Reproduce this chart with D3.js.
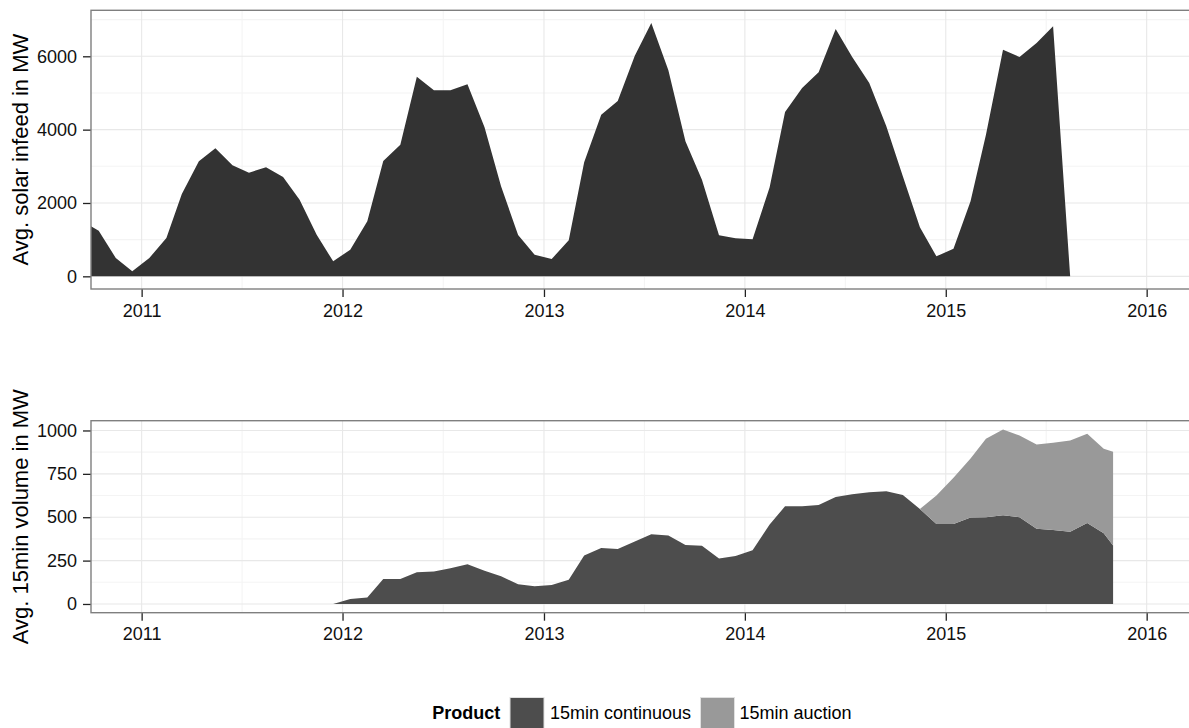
<!DOCTYPE html>
<html><head><meta charset="utf-8">
<script src="https://cdn.jsdelivr.net/npm/d3@7"></script>
<style>body{margin:0;background:#fff}svg{display:block;font-family:"Liberation Sans",Arial,sans-serif}</style>
</head><body><svg id="c" width="1189" height="728"></svg>
<script>
// ---- data ----
const solarMonths = [
 "2010-09","2010-10","2010-11","2010-12",
 "2011-01","2011-02","2011-03","2011-04","2011-05","2011-06","2011-07","2011-08","2011-09","2011-10","2011-11","2011-12",
 "2012-01","2012-02","2012-03","2012-04","2012-05","2012-06","2012-07","2012-08","2012-09","2012-10","2012-11","2012-12",
 "2013-01","2013-02","2013-03","2013-04","2013-05","2013-06","2013-07","2013-08","2013-09","2013-10","2013-11","2013-12",
 "2014-01","2014-02","2014-03","2014-04","2014-05","2014-06","2014-07","2014-08","2014-09","2014-10","2014-11","2014-12",
 "2015-01","2015-02","2015-03","2015-04","2015-05","2015-06","2015-07","2015-08"];
const solarValues = [
 1500,1245,500,136,
 500,1045,2245,3136,3490,3027,2827,2973,2709,2091,1136,409,
 727,1500,3145,3590,5445,5072,5072,5236,4063,2454,1127,591,
 473,982,3109,4409,4781,6018,6909,5618,3681,2636,1118,1036,
 1009,2427,4481,5136,5563,6745,5981,5272,4090,2727,1336,545,
 755,2045,3863,6181,5981,6363,6818,0];

const volumeDates = [
 "2011-12-15",
 "2012-01-15","2012-02-15","2012-03-15","2012-04-15","2012-05-15","2012-06-15","2012-07-15","2012-08-15","2012-09-15","2012-10-15","2012-11-15","2012-12-15",
 "2013-01-15","2013-02-15","2013-03-15","2013-04-15","2013-05-15","2013-06-15","2013-07-15","2013-08-15","2013-09-15","2013-10-15","2013-11-15","2013-12-15",
 "2014-01-15","2014-02-15","2014-03-15","2014-04-15","2014-05-15","2014-06-15","2014-07-15","2014-08-15","2014-09-15","2014-10-15","2014-11-15","2014-12-15",
 "2015-01-15","2015-02-15","2015-03-15","2015-04-15","2015-05-15","2015-06-15","2015-07-15","2015-08-15","2015-09-15","2015-10-15","2015-11-01"];
const continuousValues = [
 0,
 28,38,144,144,183,187,206,229,192,160,113,102,
 110,140,279,323,317,360,402,394,340,335,262,277,
 310,458,563,563,571,617,633,644,650,628,548,461,
 461,498,500,511,500,434,426,416,467,407,337];
const auctionValues = [
 0,
 0,0,0,0,0,0,0,0,0,0,0,0,
 0,0,0,0,0,0,0,0,0,0,0,0,
 0,0,0,0,0,0,0,0,0,0,0,164,
 266,340,452,495,471,485,503,526,514,487,540];

const yearTicks = ["2011","2012","2013","2014","2015","2016"];
const solarTicks = [0,2000,4000,6000];
const volumeTicks = [0,250,500,750,1000];
const seriesNames = ["15min continuous","15min auction"];
const seriesColors = ["#4d4d4d","#999999"];

// ---- layout ----
const svg = d3.select("#c");
const parseM = d3.timeParse("%Y-%m");
const parseD = d3.timeParse("%Y-%m-%d");
const L = 91, R = 1194;
const x = d3.scaleTime().domain([parseD("2010-10-01"), parseD("2016-03-27")]).range([L, R]);
const yearDates = yearTicks.map(t => parseD(t + "-01-01"));
const minorX = yearDates.slice(0, -1).map((d, i) => new Date((+d + +yearDates[i+1]) / 2));

const solar = solarMonths.map((m, i) => ({date: d3.timeDay.offset(parseM(m), 14), v: solarValues[i]}));
const vol = volumeDates.map((d, i) => ({date: parseD(d), c: continuousValues[i], a: auctionValues[i]}));

function panel(id, top, bottom, yDomain, majorY, title) {
  const y = d3.scaleLinear().domain(yDomain).range([bottom, top]);
  const g = svg.append("g");
  g.append("clipPath").attr("id", id).append("rect")
    .attr("x", L).attr("y", top).attr("width", R - L).attr("height", bottom - top);
  const grid = g.append("g").attr("clip-path", `url(#${id})`);
  // minor y
  const minorY = majorY.slice(0, -1).map((v, i) => (v + majorY[i+1]) / 2);
  const step = majorY[1] - majorY[0];
  minorY.push(majorY[majorY.length-1] + step/2);
  grid.selectAll(".mny").data(minorY).join("line")
    .attr("x1", L).attr("x2", R).attr("y1", d => y(d)).attr("y2", d => y(d))
    .attr("stroke", "#f4f4f4").attr("stroke-width", 1.1);
  grid.selectAll(".mnx").data(minorX).join("line")
    .attr("x1", d => x(d)).attr("x2", d => x(d)).attr("y1", top).attr("y2", bottom)
    .attr("stroke", "#f4f4f4").attr("stroke-width", 1.1);
  grid.selectAll(".mjy").data(majorY).join("line")
    .attr("x1", L).attr("x2", R).attr("y1", d => y(d)).attr("y2", d => y(d))
    .attr("stroke", "#e8e8e8").attr("stroke-width", 1.1);
  grid.selectAll(".mjx").data(yearDates).join("line")
    .attr("x1", d => x(d)).attr("x2", d => x(d)).attr("y1", top).attr("y2", bottom)
    .attr("stroke", "#e8e8e8").attr("stroke-width", 1.1);
  const marks = g.append("g").attr("clip-path", `url(#${id})`);
  // axes
  const ya = g.append("g").attr("transform", `translate(${L},0)`)
    .call(d3.axisLeft(y).tickValues(majorY).tickFormat(d3.format("d")).tickSize(8).tickPadding(6));
  const xa = g.append("g").attr("transform", `translate(0,${bottom})`)
    .call(d3.axisBottom(x).tickValues(yearDates).tickFormat(d3.timeFormat("%Y")).tickSize(8).tickPadding(7));
  [ya, xa].forEach(a => {
    a.select(".domain").remove();
    a.selectAll(".tick line").attr("stroke", "#222").attr("stroke-width", 1.3);
    a.selectAll(".tick text").attr("fill", "#111").attr("font-size", 18).attr("font-family", "Liberation Sans, Arial, sans-serif");
  });
  g.append("text").attr("transform", `translate(28,${(top+bottom)/2}) rotate(-90)`)
    .attr("text-anchor", "middle").attr("font-size", 22).attr("fill", "#000").text(title);
  const border = () => g.append("rect").attr("x", L).attr("y", top).attr("width", R - L + 5).attr("height", bottom - top)
    .attr("fill", "none").attr("stroke", "#7f7f7f").attr("stroke-width", 1.4);
  return {y, marks, border};
}

// top panel
const sMax = d3.max(solarValues);
const p1 = panel("clipTop", 10.3, 289, [-0.05 * sMax, 1.05 * sMax], solarTicks, "Avg. solar infeed in MW");
p1.marks.append("path").datum(solar)
  .attr("d", d3.area().x(d => x(d.date)).y0(p1.y(0)).y1(d => p1.y(d.v)))
  .attr("fill", "#333333");
p1.border();

// bottom panel
const vMax = d3.max(vol, d => d.c + d.a);
const p2 = panel("clipBot", 420.7, 612.7, [-0.05 * vMax, 1.05 * vMax], volumeTicks, "Avg. 15min volume in MW");
const stacked = d3.stack().keys(["c", "a"])(vol);
p2.marks.selectAll("path.s").data(stacked).join("path")
  .attr("d", d3.area().x(d => x(d.data.date)).y0(d => p2.y(d[0])).y1(d => p2.y(d[1])))
  .attr("fill", (d, i) => seriesColors[i]);
p2.border();

// legend
const lg = svg.append("g");
lg.append("text").attr("x", 432.3).attr("y", 718.5).attr("font-size", 18).attr("font-weight", "bold").text("Product");
const keyX = [510, 700.5], labX = [550, 739.5];
seriesNames.forEach((n, i) => {
  lg.append("rect").attr("x", keyX[i]).attr("y", 697.5).attr("width", 34).attr("height", 34)
    .attr("fill", seriesColors[i]).attr("stroke", "#e0e0e0").attr("stroke-width", 1);
  lg.append("text").attr("x", labX[i]).attr("y", 718.5).attr("font-size", 18).text(n);
});
</script></body></html>
